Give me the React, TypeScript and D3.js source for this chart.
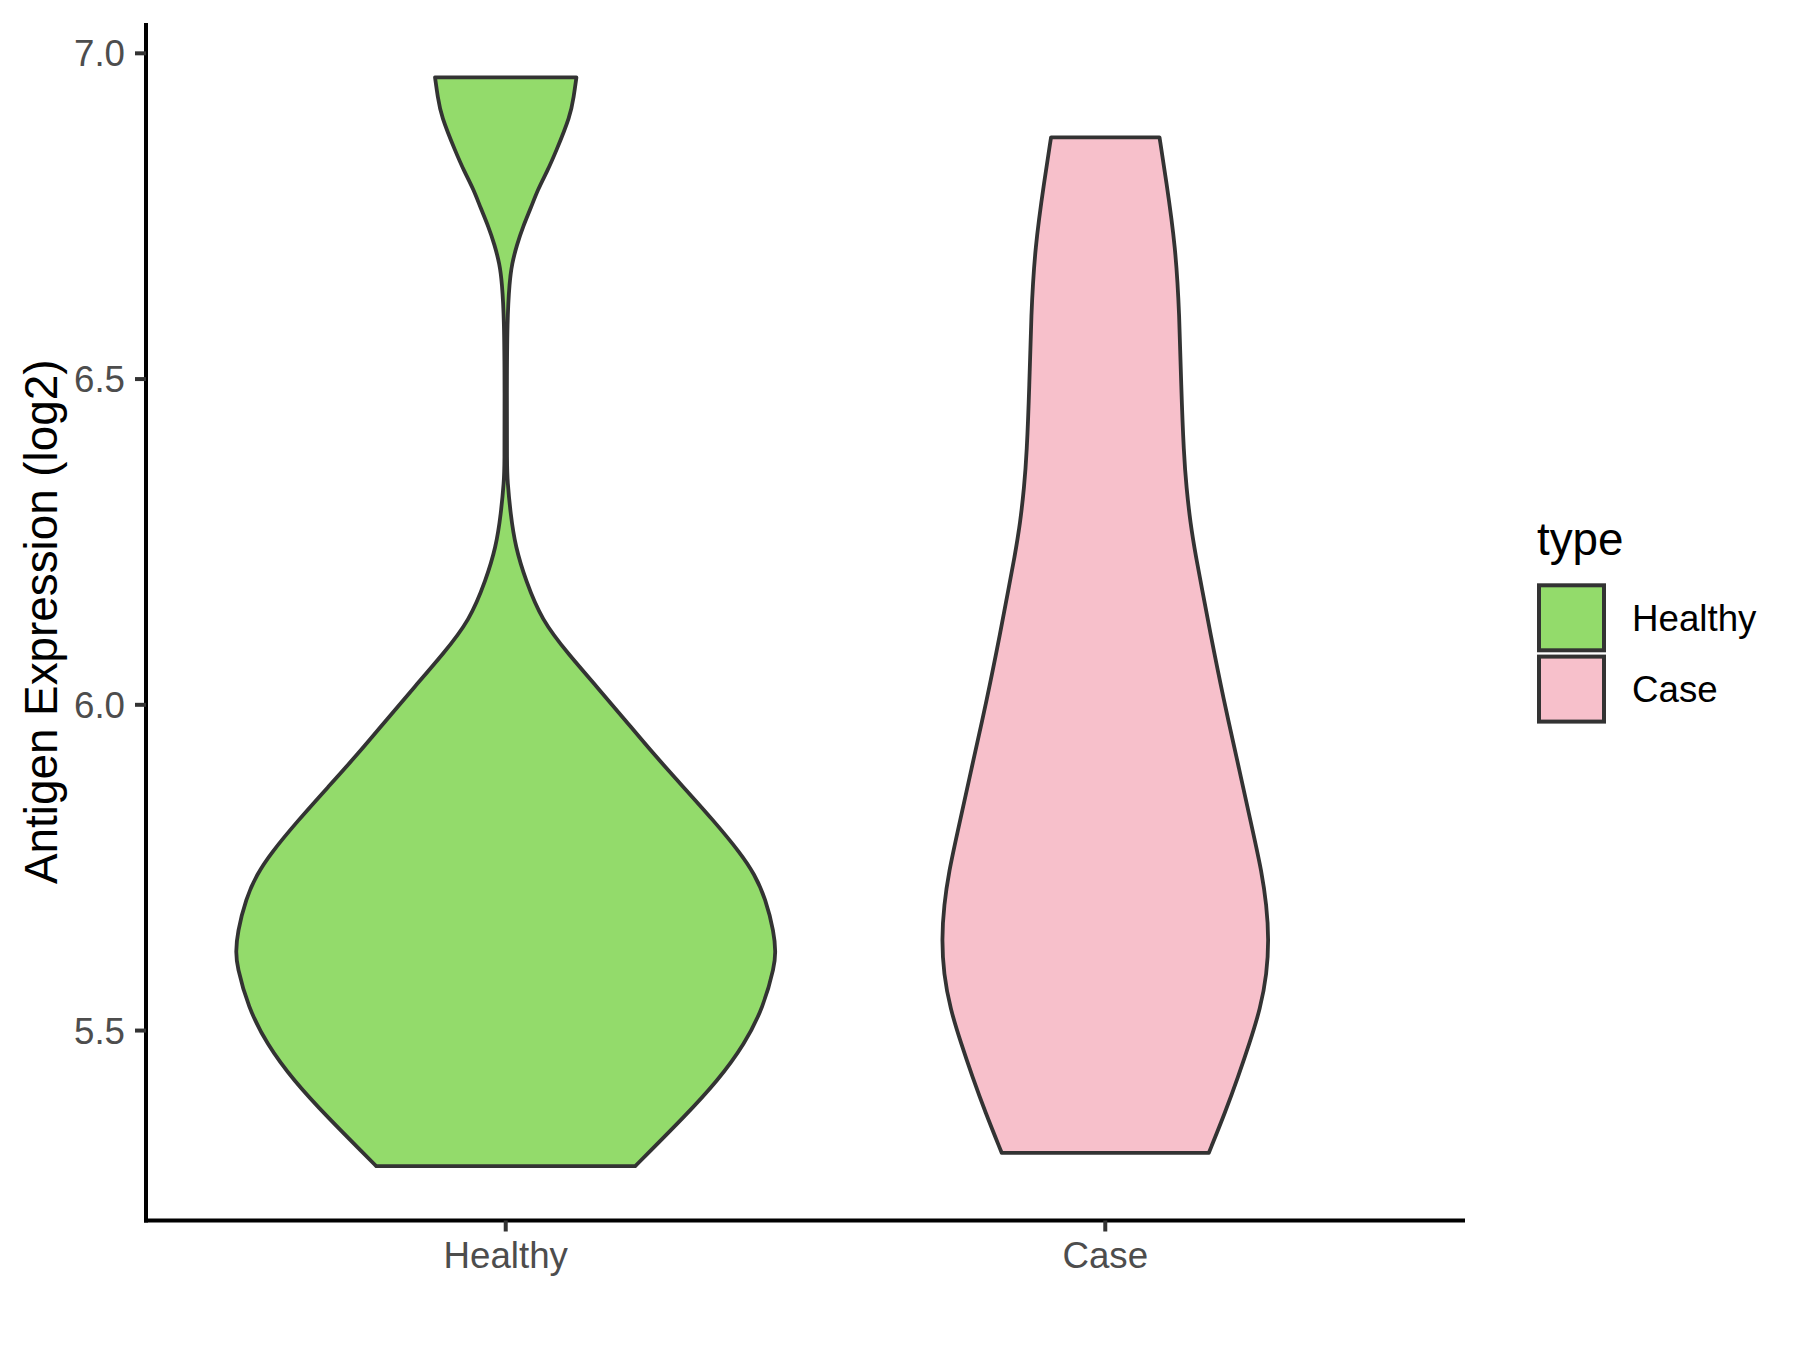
import React from "react";
import * as d3 from "d3";

// ---- data ----
const categories = ["Healthy", "Case"];
const fillColors = ["#93DB6B", "#F7C0CB"];

// expression value (log2) along the violin and relative half-width (density, Healthy max = 1)
const healthyValues = [6.963, 6.933, 6.9045, 6.848, 6.819, 6.791, 6.7625, 6.734, 6.7056, 6.677, 6.649, 6.592, 6.4785, 6.365, 6.345, 6.294, 6.242, 6.191, 6.13, 6.078, 6.028, 5.977, 5.925, 5.874, 5.823, 5.772, 5.74, 5.703, 5.6495, 5.621, 5.5997, 5.536, 5.4795, 5.4225, 5.366, 5.309, 5.292];
const healthyWidths = [0.262, 0.252, 0.24, 0.185, 0.154, 0.119, 0.093, 0.064, 0.041, 0.023, 0.014, 0.0056, 0.004, 0.0045, 0.0063, 0.0174, 0.036, 0.074, 0.133, 0.232, 0.337, 0.442, 0.547, 0.658, 0.769, 0.871, 0.922, 0.963, 0.995, 1.0, 0.997, 0.955, 0.886, 0.785, 0.658, 0.521, 0.48];

const caseValues = [6.871, 6.807, 6.702, 6.597, 6.491, 6.385, 6.333, 6.28, 6.227, 6.175, 6.115, 6.009, 5.904, 5.798, 5.745, 5.6925, 5.64, 5.587, 5.534, 5.481, 5.4285, 5.376, 5.3124];
const caseWidths = [0.201, 0.225, 0.261, 0.275, 0.281, 0.291, 0.301, 0.315, 0.336, 0.36, 0.387, 0.438, 0.495, 0.551, 0.579, 0.598, 0.606, 0.599, 0.575, 0.535, 0.492, 0.446, 0.384];

const yTicks = [5.5, 6.0, 6.5, 7.0];
const yTitle = "Antigen Expression (log2)";
const legendTitle = "type";

const seriesValues = [healthyValues, caseValues];
const seriesWidths = [healthyWidths, caseWidths];

// ---- layout ----
const W = 1800;
const H = 1350;
const panel = { left: 146, right: 1465, top: 23, bottom: 1220.5 };
const FONT = "'Liberation Sans', Arial, Helvetica, sans-serif";
const tickSize = 36.7;
const titleSize = 45.8;

export default function App() {
  const allVals = seriesValues.flat();
  const vMin = d3.min(allVals) as number;
  const vMax = d3.max(allVals) as number;
  const pad = (vMax - vMin) * 0.05;

  const y = d3.scaleLinear().domain([vMin - pad, vMax + pad]).range([panel.bottom, panel.top]);
  const x = d3.scalePoint<string>().domain(categories).range([panel.left, panel.right]).padding(0.6);
  const halfW = d3.scaleLinear().domain([0, 1]).range([0, (x.step() * 0.9) / 2]);

  const violins = categories.map((cat, i) => {
    const cx = x(cat) as number;
    const pts = seriesValues[i].map((v, j) => ({ v, w: seriesWidths[i][j] }));
    const area = d3
      .area<{ v: number; w: number }>()
      .y((d) => y(d.v))
      .x0((d) => cx - halfW(d.w))
      .x1((d) => cx + halfW(d.w))
      .curve(d3.curveBasis);
    return { cat, d: area(pts) as string, fill: fillColors[i] };
  });

  const fmt = d3.format(".1f");

  // legend
  const legX = 1537;
  const keySize = 69;
  const keyTop = 583.3;
  const keyGap = 2.3;

  return (
    <svg
      width={W}
      height={H}
      viewBox={`0 0 ${W} ${H}`}
      style={{ position: "absolute", left: 0, top: 0, background: "#fff" }}
    >
      <rect x={0} y={0} width={W} height={H} fill="#ffffff" />

      {violins.map((vl) => (
        <path key={vl.cat} d={vl.d} fill={vl.fill} stroke="#333333" strokeWidth={3.8} strokeLinejoin="round" />
      ))}

      {/* axes */}
      <line x1={panel.left} x2={panel.left} y1={panel.top} y2={panel.bottom + 2} stroke="#000" strokeWidth={4} />
      <line x1={panel.left - 2} x2={panel.right} y1={panel.bottom} y2={panel.bottom} stroke="#000" strokeWidth={4} />

      {yTicks.map((t) => (
        <g key={t}>
          <line x1={panel.left - 11} x2={panel.left} y1={y(t)} y2={y(t)} stroke="#333333" strokeWidth={4} />
          <text
            x={125}
            y={y(t) + tickSize * 0.355}
            textAnchor="end"
            fontFamily={FONT}
            fontSize={tickSize}
            fill="#4D4D4D"
          >
            {fmt(t)}
          </text>
        </g>
      ))}

      {categories.map((c) => (
        <g key={c}>
          <line x1={x(c)} x2={x(c)} y1={panel.bottom} y2={panel.bottom + 11} stroke="#333333" strokeWidth={4} />
          <text x={x(c)} y={1268} textAnchor="middle" fontFamily={FONT} fontSize={tickSize} fill="#4D4D4D">
            {c}
          </text>
        </g>
      ))}

      <text
        transform={`translate(57, ${(panel.top + panel.bottom) / 2}) rotate(-90)`}
        textAnchor="middle"
        fontFamily={FONT}
        fontSize={titleSize}
        fill="#000"
      >
        {yTitle}
      </text>

      {/* legend */}
      <text x={legX} y={555} fontFamily={FONT} fontSize={titleSize} fill="#000">
        {legendTitle}
      </text>
      {categories.map((c, i) => {
        const top = keyTop + i * (keySize + keyGap);
        return (
          <g key={c}>
            <rect
              x={legX + 2}
              y={top + 2}
              width={keySize - 4}
              height={keySize - 4}
              fill={fillColors[i]}
              stroke="#333333"
              strokeWidth={4}
            />
            <text
              x={1632}
              y={top + keySize / 2 + tickSize * 0.355}
              fontFamily={FONT}
              fontSize={tickSize}
              fill="#000"
            >
              {c}
            </text>
          </g>
        );
      })}
    </svg>
  );
}
